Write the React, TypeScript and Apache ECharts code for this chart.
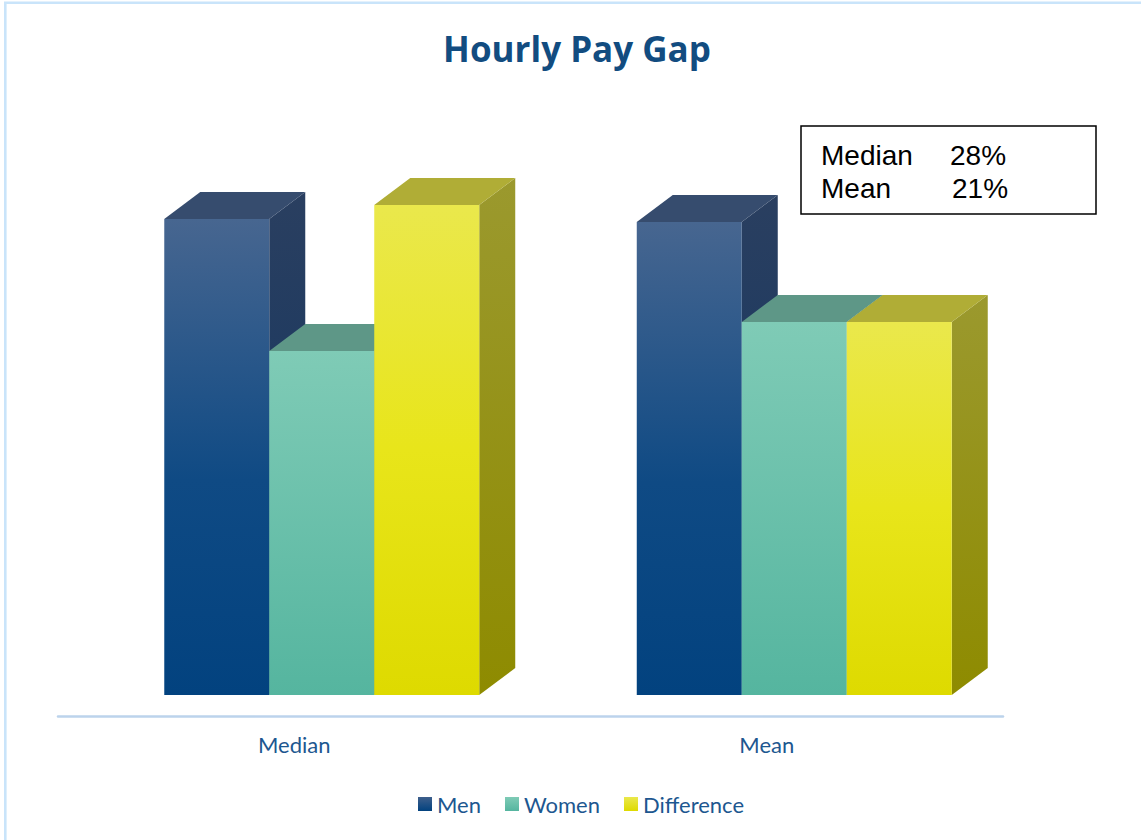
import React, { useEffect, useRef } from "react";
import * as echarts from "echarts";

const categories = ["Median", "Mean"];
const seriesNames = ["Men", "Women", "Difference"];
const menValues = [95.2, 94.6];
const womenValues = [68.8, 74.6];
const differenceValues = [98.0, 74.6];
const boxLines = [
  ["Median", "28%"],
  ["Mean", "21%"],
];

const lg = (stops: [number, string][]) =>
  new echarts.graphic.LinearGradient(
    0,
    0,
    0,
    1,
    stops.map(([offset, color]) => ({ offset, color }))
  );

const palettes = [
  {
    front: () => lg([[0, "#476690"], [0.55, "#0F4A84"], [1, "#02427F"]]),
    side: () => lg([[0, "#2A3F60"], [1, "#0E3462"]]),
    top: "#364C6E",
    legend: () => lg([[0, "#3E5F8C"], [1, "#02427F"]]),
  },
  {
    front: () => lg([[0, "#7FCBB6"], [1, "#55B59F"]]),
    side: () => lg([[0, "#4F8E7F"], [1, "#3D7C6C"]]),
    top: "#5E9787",
    legend: () => lg([[0, "#7FCBB6"], [1, "#55B59F"]]),
  },
  {
    front: () => lg([[0, "#EAE84C"], [0.5, "#E8E51A"], [1, "#DEDA00"]]),
    side: () => lg([[0, "#9B992E"], [1, "#8E8B00"]]),
    top: "#B0AD36",
    legend: () => lg([[0, "#EAE84C"], [1, "#DEDA00"]]),
  },
];

const offsets = [-0.2751, -0.0529, 0.1693];
const BAR_W = 0.2222;
const DEPTH_X = 0.0762;
const DEPTH_Y = 27;

function makeSeries(name: string, values: number[], idx: number) {
  const pal = palettes[idx];
  return {
    type: "custom",
    name,
    itemStyle: { color: pal.legend() },
    encode: { x: 0, y: 1 },
    data: values.map((v, i) => [i, v]),
    renderItem: (params: any, api: any) => {
      const cat = api.value(0);
      const val = api.value(1);
      const top = api.coord([cat, val]);
      const base = api.coord([cat, 0]);
      const band = api.size([1, 0])[0];
      const w = band * BAR_W;
      const dx = band * DEPTH_X;
      const dy = DEPTH_Y;
      const x0 = top[0] + band * offsets[idx];
      const yt = top[1];
      const yb = base[1];
      return {
        type: "group",
        children: [
          {
            type: "polygon",
            shape: {
              points: [
                [x0 + w, yt],
                [x0 + w + dx, yt - dy],
                [x0 + w + dx, yb - dy],
                [x0 + w, yb],
              ],
            },
            style: { fill: pal.side() },
          },
          {
            type: "polygon",
            shape: {
              points: [
                [x0, yt],
                [x0 + w, yt],
                [x0 + w + dx, yt - dy],
                [x0 + dx, yt - dy],
              ],
            },
            style: { fill: pal.top },
          },
          {
            type: "rect",
            shape: { x: x0, y: yt, width: w, height: yb - yt },
            style: { fill: pal.front() },
          },
        ],
      };
    },
  };
}

export default function App() {
  const ref = useRef<HTMLDivElement>(null);
  useEffect(() => {
    if (!ref.current) return;
    const chart = echarts.init(ref.current, undefined, { renderer: "svg" });
    const allValues = [menValues, womenValues, differenceValues];
    chart.setOption({
      animation: false,
      backgroundColor: "#ffffff",
      grid: { left: 58, right: 138, top: 195, bottom: 145 },
      xAxis: {
        type: "category",
        data: categories,
        offset: 21,
        axisLine: {
          show: true,
          onZero: false,
          lineStyle: { color: "#BCD3EC", width: 2.5 },
        },
        axisTick: { show: false },
        splitLine: { show: false },
        axisLabel: {
          color: "#1D5790",
          fontSize: 22,
          fontFamily: "Lato",
          margin: 17,
        },
      },
      yAxis: { type: "value", min: 0, max: 100, show: false },
      legend: {
        data: seriesNames,
        left: 413,
        top: 788,
        icon: "rect",
        itemWidth: 14,
        itemHeight: 14,
        itemGap: 24,
        textStyle: { color: "#1D5790", fontSize: 22, fontFamily: "Lato" },
      },
      series: seriesNames.map((n, i) => makeSeries(n, allValues[i], i)),
      graphic: [
        {
          type: "rect",
          shape: { x: 5.3, y: 2.8, width: 1160, height: 860 },
          style: { fill: "none", stroke: "#C9E4FA", lineWidth: 2.6 },
          silent: true,
        },
        {
          type: "text",
          x: 577,
          y: 48,
          style: {
            text: "Hourly Pay Gap",
            fill: "#124C80",
            font: "bold 35px 'Open Sans'",
            textAlign: "center",
            textVerticalAlign: "middle",
          },
        },
        {
          type: "rect",
          shape: { x: 801, y: 126, width: 295, height: 88 },
          style: { fill: "#ffffff", stroke: "#000000", lineWidth: 1.5 },
        },
        ...boxLines.flatMap(([label, pct], i) => [
          {
            type: "text",
            x: 821,
            y: 155 + i * 33.5,
            style: {
              text: label,
              fill: "#000000",
              font: "28px 'Liberation Sans'",
              textVerticalAlign: "middle",
            },
          },
          {
            type: "text",
            x: i === 0 ? 950 : 952,
            y: 155 + i * 33.5,
            style: {
              text: pct,
              fill: "#000000",
              font: "28px 'Liberation Sans'",
              textVerticalAlign: "middle",
            },
          },
        ]),
      ],
    });
    return () => chart.dispose();
  }, []);
  return (
    <div
      ref={ref}
      style={{ position: "absolute", left: 0, top: 0, width: 1141, height: 840 }}
    />
  );
}
